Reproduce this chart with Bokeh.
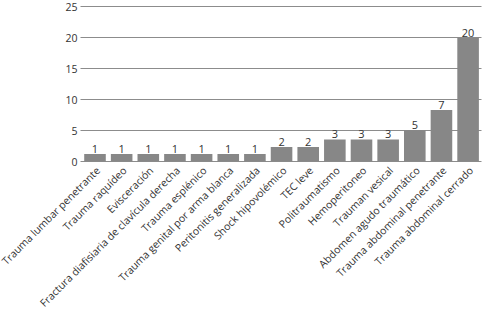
import math
from bokeh.plotting import figure
from bokeh.models import Range1d, ColumnDataSource
from bokeh.core.properties import value
from bokeh.embed import file_html
from bokeh.resources import INLINE

categories = [
    "Trauma lumbar penetrante",
    "Trauma raquídeo",
    "Evisceración",
    "Fractura diafisiaria de clavícula derecha",
    "Trauma esplénico",
    "Trauma genital por arma blanca",
    "Peritonitis generalizada",
    "Shock hipovolémico",
    "TEC leve",
    "Politraumatismo",
    "Hemoperitoneo",
    "Trauman vesical",
    "Abdomen agudo traumático",
    "Trauma abdominal penetrante",
    "Trauma abdominal cerrado",
]
counts = [1, 1, 1, 1, 1, 1, 1, 2, 2, 3, 3, 3, 5, 7, 20]
# bar heights as drawn in the picture (they differ slightly from the printed counts)
bar_heights = [1.2, 1.2, 1.2, 1.2, 1.2, 1.2, 1.2, 2.35, 2.35, 3.55, 3.55, 3.55, 5.1, 8.3, 20]
y_ticks = [0, 5, 10, 15, 20, 25]

FONT = "Open Sans"
TXT = "#333333"

# layout (screen pixels)
W, H = 483, 310
ZERO_PX, TOP_TICK_PX = 161, 6       # rows of the 0 and 25 lines
FIRST_CX, PITCH = 94.5, 26.65        # centre of first bar, bar pitch
GRID_X0_PX, GRID_X1_PX = 80, 481     # horizontal extent of the grid lines
YLAB_PX = 77                         # right edge of the y tick labels

ys = (ZERO_PX - TOP_TICK_PX) / y_ticks[-1]   # px per unit
y_end = ZERO_PX / ys
y_start = -(H - ZERO_PX) / ys
x_start = -FIRST_CX / PITCH
x_end = x_start + W / PITCH

def px_to_x(px):
    return x_start + px / PITCH

idx = list(range(len(categories)))
src = ColumnDataSource(dict(x=idx, cat=categories, h=bar_heights,
                            lab=[str(c) for c in counts], zero=[0] * len(categories)))
tick_src = ColumnDataSource(dict(y=y_ticks, lab=[str(t) for t in y_ticks],
                                 x0=[px_to_x(GRID_X0_PX)] * len(y_ticks),
                                 x1=[px_to_x(GRID_X1_PX)] * len(y_ticks),
                                 xl=[px_to_x(YLAB_PX)] * len(y_ticks)))

p = figure(
    width=W, height=H,
    x_range=Range1d(x_start, x_end),
    y_range=Range1d(y_start, y_end),
    output_backend="svg", toolbar_location=None,
    min_border=0,
)
p.outline_line_color = None
p.background_fill_color = "white"
p.border_fill_color = "white"
p.xaxis.visible = False
p.yaxis.visible = False
p.xgrid.visible = False
p.ygrid.visible = False

# grid lines
p.segment(x0="x0", x1="x1", y0="y", y1="y", source=tick_src,
          line_color="#8c8c8c", line_width=1)
# y tick labels
p.text(x="xl", y="y", text="lab", source=tick_src, text_align="right", text_baseline="middle",
       text_font=value(FONT), text_font_size="10.5px", text_color=TXT)

# bars and value labels
p.vbar(x="x", top="h", width=0.81, source=src, fill_color="#878787", line_color=None)
p.text(x="x", y="h", text="lab", source=src, text_align="center", text_baseline="bottom",
       y_offset=-1, text_font=value(FONT), text_font_size="11px", text_color=TXT)

# rotated category labels below the zero line
p.text(x="x", y="zero", text="cat", source=src, angle=math.pi / 4,
       text_align="right", text_baseline="middle", x_offset=3, y_offset=7,
       text_font=value(FONT), text_font_size="10.5px", text_color=TXT)

open("out.html", "w").write(file_html(p, INLINE))
